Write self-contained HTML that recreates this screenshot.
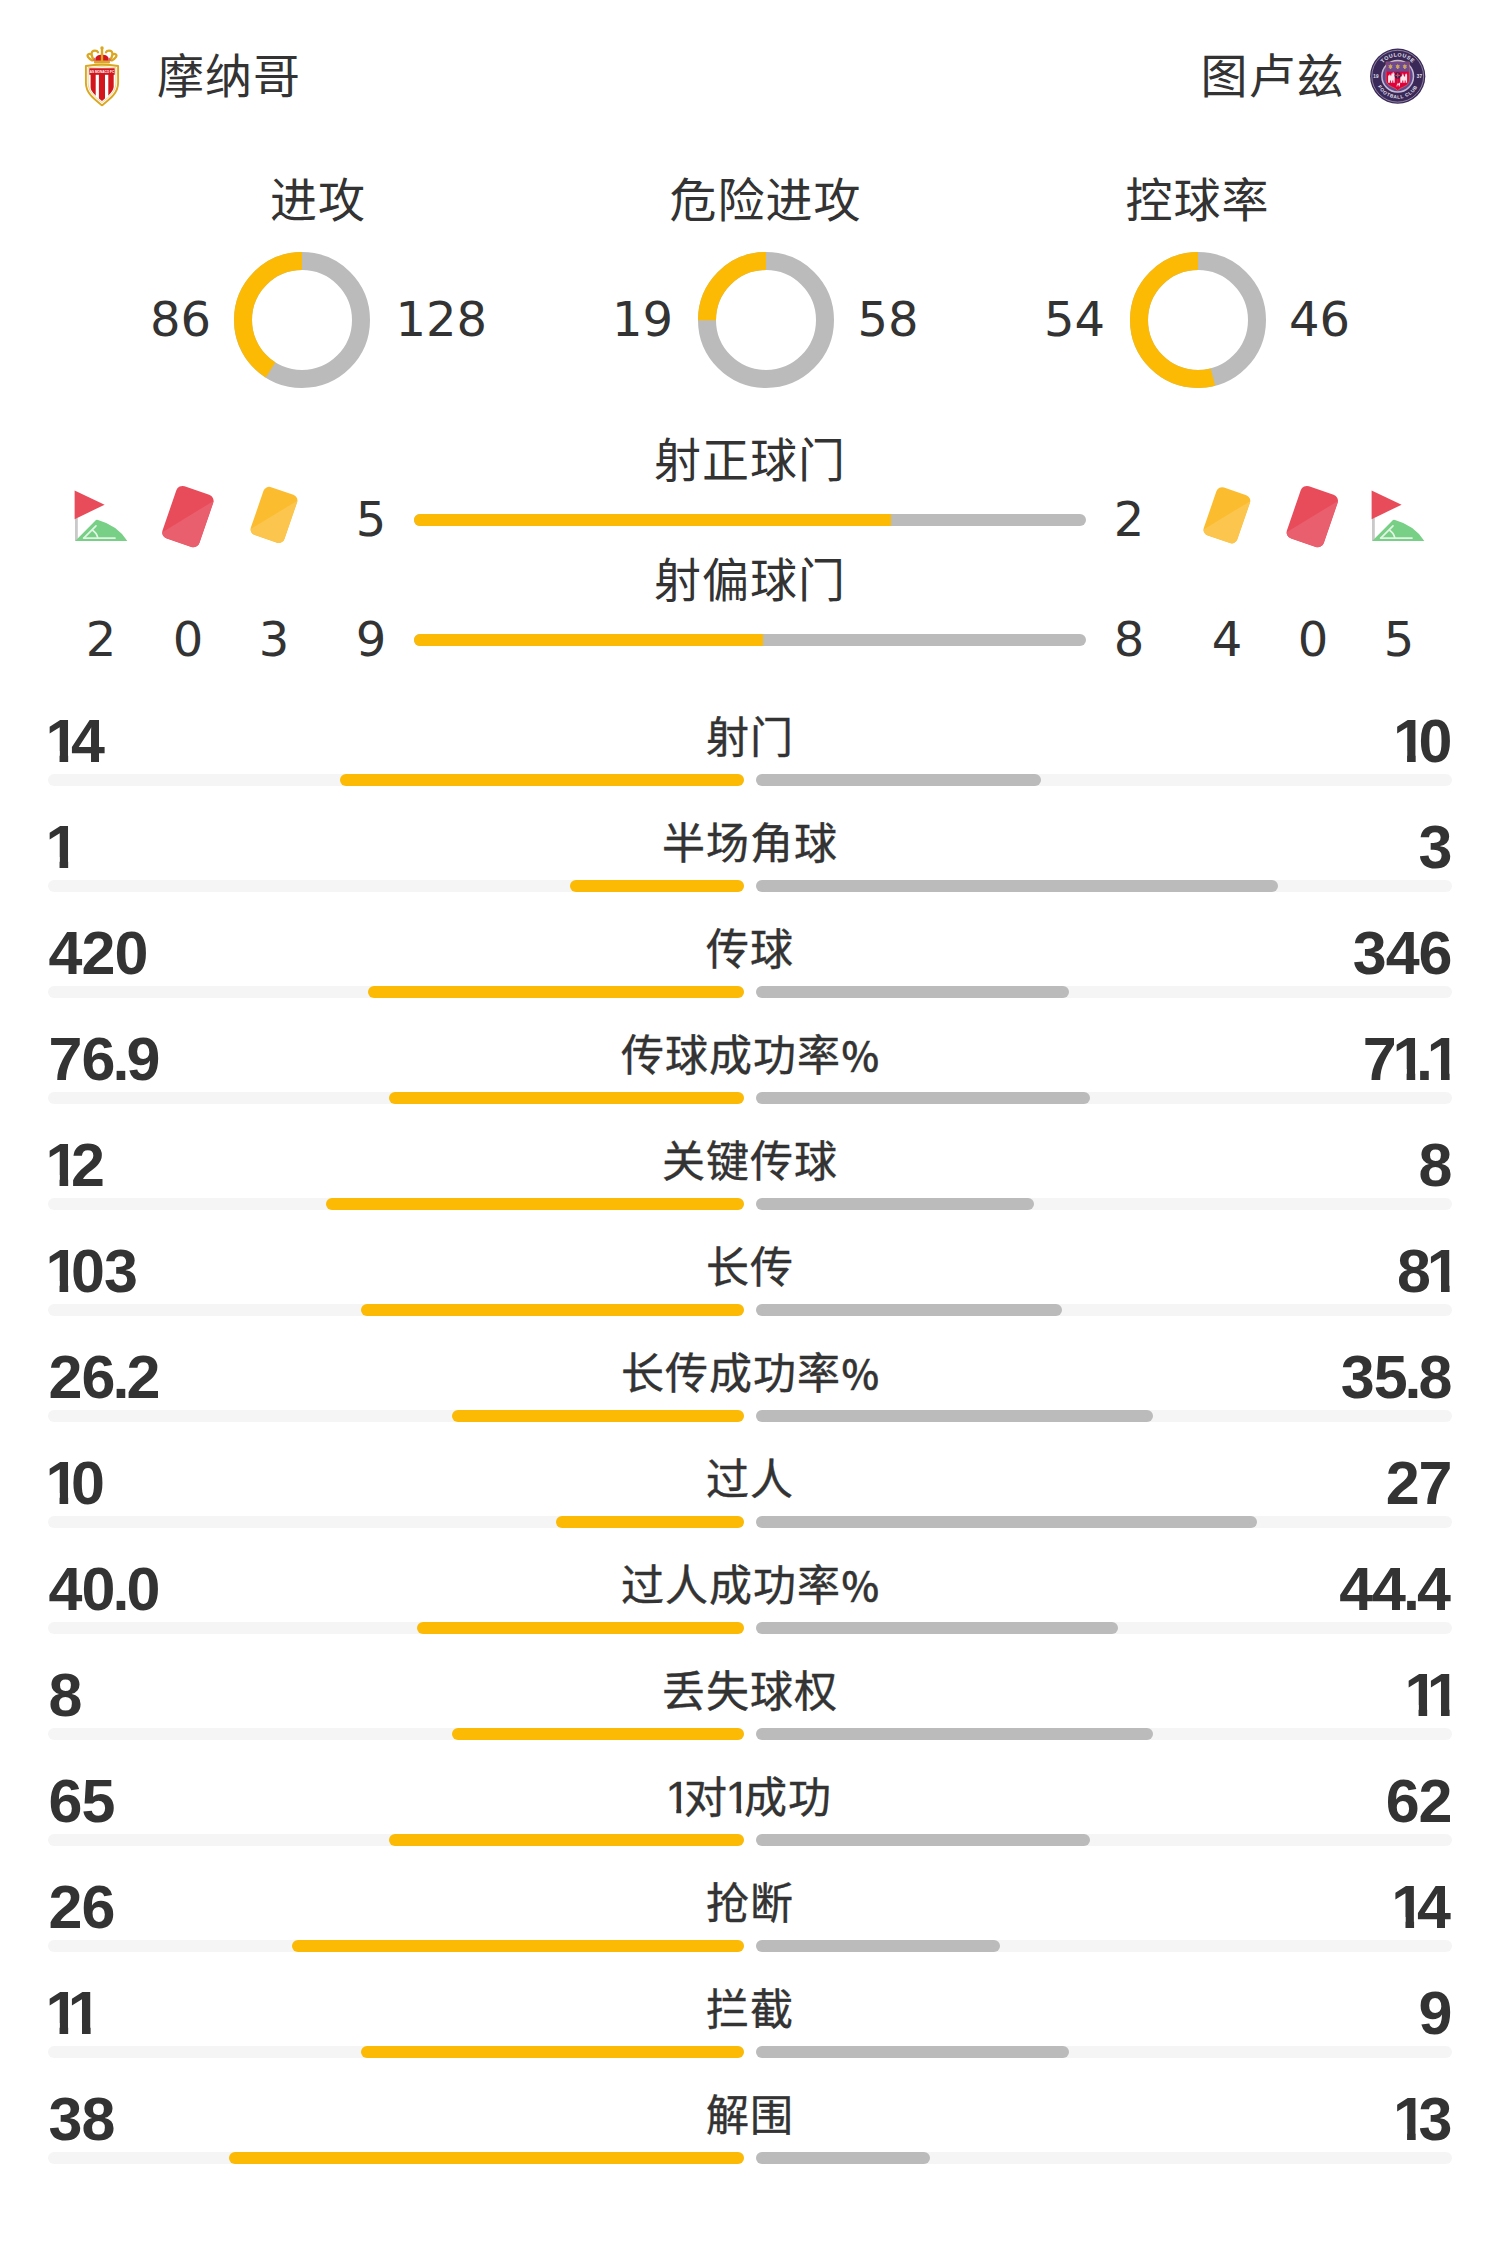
<!DOCTYPE html>
<html lang="zh-CN"><head><meta charset="utf-8"><title>摩纳哥 vs 图卢兹</title>
<style>
*{margin:0;padding:0;box-sizing:border-box}
html,body{width:1500px;height:2244px;background:#fff;overflow:hidden}
body{position:relative;color:#333;font-family:"DejaVu Sans","Noto Sans CJK SC",sans-serif;}
.abs{position:absolute;white-space:nowrap}
.t48{font-size:48px;line-height:60px;height:60px}
.c47{font-size:47px;letter-spacing:1px}
.num{font-family:"Liberation Sans",sans-serif;font-weight:700;font-size:61px;line-height:60px;height:60px;letter-spacing:-1px}
.lab{font-family:"Liberation Sans","Noto Sans CJK SC",sans-serif;font-weight:400;-webkit-text-stroke:0.4px #333;font-size:43px;letter-spacing:1px;line-height:60px;height:60px;left:0;width:1500px;text-align:center}
.track{position:absolute;width:696px;height:12px;border-radius:6px;background:#f5f5f5}
.by{position:absolute;height:12px;border-radius:6px;background:#fcba05}
.bg{position:absolute;height:12px;border-radius:6px;background:#bbb}
.d1{display:inline-block;font-size:45px;line-height:50px;letter-spacing:0;margin:0 -6.5px 0 -2.5px;clip-path:polygon(0 0,15.8px 0,15.8px 50px,10.9px 50px,10.9px 35px,0 35px)}
.o{display:inline-block;margin:0 -7.3px 0 -3.2px;clip-path:polygon(0 0,22.75px 0,22.75px 60px,14.15px 60px,14.15px 40px,0 40px)}
.p{margin:0 -2px}
.pc{font-family:"Noto Sans CJK SC",sans-serif;font-size:40px;font-weight:500;line-height:50px;letter-spacing:0;margin-left:0.5px}
</style></head>
<body>
<svg class="abs" style="left:80px;top:42px" width="44" height="68" viewBox="80 42 44 68">
<g fill="none" stroke="#dba720" stroke-width="2.3" stroke-linecap="round">
<path d="M94.6 60.6 C90.8 56.5 90.2 50.6 95 50.6 C96.6 50.6 97.6 51.4 98 52.2"/>
<path d="M109.4 60.6 C113.2 56.5 113.8 50.6 109 50.6 C107.4 50.6 106.4 51.4 106 52.2"/>
<path d="M92.2 60.4 C88.6 58.6 86.2 55.4 88.4 54.2 C89.4 53.7 90.3 54 90.8 54.4"/>
<path d="M111.8 60.4 C115.4 58.6 117.8 55.4 115.6 54.2 C114.6 53.7 113.7 54 113.2 54.4"/>
</g>
<path d="M95.6 60.8 C94.6 57.6 96.4 55 101 54.8 L103 54.8 C107.6 55 109.4 57.6 108.4 60.8 Z" fill="#d2161c"/>
<path d="M92.6 60.6 L94.8 57.6 L96 60.8 Z M111.4 60.6 L109.2 57.6 L108 60.8 Z" fill="#e8606a"/>
<rect x="100.8" y="48.4" width="2.4" height="12.6" fill="#dba720"/>
<circle cx="102" cy="48" r="1.7" fill="#dba720"/>
<rect x="94" y="60.9" width="16" height="2.5" rx="1" fill="#dba720"/>
<path d="M85.9 66 Q102 63.6 118.1 66 L118.1 83 C118.1 93 110 99 102 105.3 C94 99 85.9 93 85.9 83 Z" fill="#fff" stroke="#dba720" stroke-width="1.9" stroke-linejoin="round"/>
<path d="M88.1 67.6 Q102 65.8 115.9 67.6 L115.9 83 C115.9 91.6 109 97 102 102.5 C95 97 88.1 91.6 88.1 83 Z" fill="none" stroke="#e3b94a" stroke-width="0.6"/>
<clipPath id="mshield"><path d="M89.3 68.3 H114.7 V83 C114.7 90.8 108.4 95.8 102 100.9 C95.6 95.8 89.3 90.8 89.3 83 Z"/></clipPath>
<g clip-path="url(#mshield)">
<rect x="89" y="68" width="26" height="34" fill="#fff"/>
<rect x="90.6" y="74" width="5.1" height="28" fill="#d2161c"/>
<rect x="98.9" y="74" width="6.1" height="28" fill="#d2161c"/>
<rect x="108.3" y="74" width="5.4" height="28" fill="#d2161c"/>
<rect x="89" y="68" width="26" height="6.8" fill="#d2161c"/>
</g>
<text x="102" y="72.9" text-anchor="middle" font-family="Liberation Sans, sans-serif" font-weight="700" font-size="3.8" fill="#fff" textLength="24.4" lengthAdjust="spacingAndGlyphs">AS MONACO FC</text>
</svg>
<div class="abs t48 c47" style="left:157px;top:46.5px">摩纳哥</div>
<div class="abs t48 c47" style="right:155.5px;top:46.5px">图卢兹</div>
<svg class="abs" style="left:1367px;top:46px" width="62" height="62" viewBox="-31 -31 62 62">
<g transform="translate(-0.3 -0.8)">
<circle r="27.6" fill="#3a2958"/>
<circle r="25.9" fill="none" stroke="#fff" stroke-opacity="0.6" stroke-width="0.7"/>
<circle r="15.8" fill="#65488f" stroke="#c4bdd4" stroke-width="1.5"/>
<path d="M-11.6 -14.2 H11.6 V4 Q11.4 8.4 6 10.6 Q2 12 0 14.4 Q-2 12 -6 10.6 Q-11.4 8.4 -11.6 4 Z" fill="#e2003b" stroke="#d8924a" stroke-width="0.5"/>
<path d="M-11.4 -14 H11.4 V-4.6 H-11.4 Z" fill="#6a4c93"/>
<g fill="#d3a456" transform="translate(0 -1.4) scale(0.86)">
<path d="M-8.4 -12.6 l1 1.6 l1.6 -0.2 l-0.9 1.5 l0.6 1.9 l-1.4 -0.5 v1.6 h-1.8 v-1.6 l-1.4 0.5 l0.6 -1.9 l-0.9 -1.5 l1.6 0.2 Z" transform="translate(0 0)"/>
<path d="M0 -12.6 l1 1.6 l1.6 -0.2 l-0.9 1.5 l0.6 1.9 l-1.4 -0.5 v1.6 h-1.8 v-1.6 l-1.4 0.5 l0.6 -1.9 l-0.9 -1.5 l1.6 0.2 Z"/>
<path d="M8.4 -12.6 l1 1.6 l1.6 -0.2 l-0.9 1.5 l0.6 1.9 l-1.4 -0.5 v1.6 h-1.8 v-1.6 l-1.4 0.5 l0.6 -1.9 l-0.9 -1.5 l1.6 0.2 Z" transform="translate(-0.1 0)"/>
</g>
<g fill="#fff" fill-opacity="0.9">
<path d="M-9.6 6.6 V-0.6 h1.2 v-1 h1 v1 h1.1 v-2.2 h1.3 v-1.2 h1 v1.2 h1 V6.6 h-1.4 v-2.4 h-1 v2.4 h-1.4 v-2.4 h-1 v2.4 Z"/>
<path d="M2.6 6.6 V0.2 h1.4 l1.2 -3.4 l1.2 3.4 h1 v-1.6 l1 -1.6 l1 1.6 V6.6 h-1.4 v-2.4 h-1 v2.4 h-1.4 v-2.4 h-1 v2.4 Z"/>
<path d="M-0.6 7.2 h1.6 l0.9 -1 l0.6 1.4 l-0.6 2.6 h-0.8 l-0.2 -1.6 h-1 l-0.3 1.6 h-0.8 Z"/>
</g>
<rect x="-0.4" y="2" width="0.8" height="5" fill="#b03a4a"/>
<circle cy="-0.8" r="3.1" fill="#2f2350"/>
<path d="M-0.7 -3 h1.4 v1.5 h1.5 v1.4 h-1.5 v1.5 h-1.4 v-1.5 h-1.5 v-1.4 h1.5 Z" fill="#d6455c"/>
<path id="tarcT" d="M-19.7 0 A19.7 19.7 0 0 1 19.7 0" fill="none"/>
<path id="tarcB" d="M-22.4 0 A22.4 22.4 0 0 0 22.4 0" fill="none"/>
<g font-family="Liberation Sans, sans-serif" font-weight="700" fill="#e4e0ec" font-size="5.3">
<text text-anchor="middle" letter-spacing="0.55"><textPath href="#tarcT" startOffset="50%">TOULOUSE</textPath></text>
<text text-anchor="middle" font-size="4.8" letter-spacing="0.6"><textPath href="#tarcB" startOffset="50%">FOOTBALL CLUB</textPath></text>
<text x="-21.8" y="1.6" text-anchor="middle" font-size="4.6">19</text>
<text x="21.7" y="1.6" text-anchor="middle" font-size="4.6">37</text>
</g>
</g>
</svg>
<div class="abs t48 c47" style="left:118.0px;width:400px;text-align:center;top:170.5px">进攻</div>
<div class="abs t48" style="right:1289.0px;top:289px">86</div>
<svg class="abs" style="left:232.15px;top:250px" width="140" height="140" viewBox="-70 -70 140 140"><circle r="59" fill="none" stroke="#bbb" stroke-width="18"/><circle r="59" fill="none" stroke="#fcba05" stroke-width="18" stroke-dasharray="151.99 370.71" transform="rotate(-90) scale(1 -1)"/></svg>
<div class="abs t48" style="left:395.5px;top:289px">128</div>
<div class="abs t48 c47" style="left:565.5px;width:400px;text-align:center;top:170.5px">危险进攻</div>
<div class="abs t48" style="right:827.0px;top:289px">19</div>
<svg class="abs" style="left:695.90px;top:250px" width="140" height="140" viewBox="-70 -70 140 140"><circle r="59" fill="none" stroke="#bbb" stroke-width="18"/><circle r="59" fill="none" stroke="#fcba05" stroke-width="18" stroke-dasharray="92.68 370.71" transform="rotate(-90) scale(1 -1)"/></svg>
<div class="abs t48" style="left:857.5px;top:289px">58</div>
<div class="abs t48 c47" style="left:997.4px;width:400px;text-align:center;top:170.5px">控球率</div>
<div class="abs t48" style="right:395.0px;top:289px">54</div>
<svg class="abs" style="left:1128.20px;top:250px" width="140" height="140" viewBox="-70 -70 140 140"><circle r="59" fill="none" stroke="#bbb" stroke-width="18"/><circle r="59" fill="none" stroke="#fcba05" stroke-width="18" stroke-dasharray="200.18 370.71" transform="rotate(-90) scale(1 -1)"/></svg>
<div class="abs t48" style="left:1289.0px;top:289px">46</div>
<div class="abs t48 c47" style="left:0;width:1500px;text-align:center;top:431px">射正球门</div>
<div class="abs t48 c47" style="left:0;width:1500px;text-align:center;top:551px">射偏球门</div>
<div class="abs" style="left:414px;top:514px;width:672px;height:12px;border-radius:6px;background:#bbb;overflow:hidden"><div style="width:477.1px;height:12px;background:#fcba05"></div></div>
<div class="abs" style="left:414px;top:634px;width:672px;height:12px;border-radius:6px;background:#bbb;overflow:hidden"><div style="width:349.4px;height:12px;background:#fcba05"></div></div>
<div class="abs t48" style="left:321px;width:100px;text-align:center;top:489px">5</div>
<div class="abs t48" style="left:1079px;width:100px;text-align:center;top:489px">2</div>
<div class="abs t48" style="left:51px;width:100px;text-align:center;top:609px">2</div>
<div class="abs t48" style="left:138px;width:100px;text-align:center;top:609px">0</div>
<div class="abs t48" style="left:224px;width:100px;text-align:center;top:609px">3</div>
<div class="abs t48" style="left:321px;width:100px;text-align:center;top:609px">9</div>
<div class="abs t48" style="left:1079px;width:100px;text-align:center;top:609px">8</div>
<div class="abs t48" style="left:1177px;width:100px;text-align:center;top:609px">4</div>
<div class="abs t48" style="left:1263px;width:100px;text-align:center;top:609px">0</div>
<div class="abs t48" style="left:1349px;width:100px;text-align:center;top:609px">5</div>
<svg class="abs" style="left:0;top:470px" width="1500" height="90" viewBox="0 470 1500 90">
<g transform="translate(0 0)">
<rect x="75" y="518" width="2.8" height="22.9" fill="#c9c9c9"/>
<path d="M74.6 490.6 L104.6 504.7 L74.6 519.2 Z" fill="#e84c5b"/>
<path d="M75.2 541 L96 519.9 Q97 519.4 98 519.9 Q118 525.5 127.3 541 Z" fill="#78cf86"/>
<g fill="none" stroke="#e2f5e5" stroke-width="1.7" stroke-linecap="round"><path d="M83.6 538.1 H115"/><path d="M84 537.8 L96 525.8"/><path d="M92.6 530.2 Q96.8 533 97.8 537.8"/></g>
</g>
<g transform="translate(1297 0)">
<rect x="75" y="518" width="2.8" height="22.9" fill="#c9c9c9"/>
<path d="M74.6 490.6 L104.6 504.7 L74.6 519.2 Z" fill="#e84c5b"/>
<path d="M75.2 541 L96 519.9 Q97 519.4 98 519.9 Q118 525.5 127.3 541 Z" fill="#78cf86"/>
<g fill="none" stroke="#e2f5e5" stroke-width="1.7" stroke-linecap="round"><path d="M83.6 538.1 H115"/><path d="M84 537.8 L96 525.8"/><path d="M92.6 530.2 Q96.8 533 97.8 537.8"/></g>
</g>
<g transform="translate(187.9 516.6) rotate(19)">
<clipPath id="k1"><rect x="-19.5" y="-27.6" width="39" height="55.2" rx="6.5"/></clipPath>
<rect x="-19.5" y="-27.6" width="39" height="55.2" rx="6.5" fill="#e84c5b"/>
<path d="M-19.5 23.6 L19.5 -23.6 V27.6 H-19.5 Z" fill="#ea5f6d" clip-path="url(#k1)"/>
</g>
<g transform="translate(274 514.9) rotate(19)">
<clipPath id="k2"><rect x="-17.75" y="-25.3" width="35.5" height="50.6" rx="6"/></clipPath>
<rect x="-17.75" y="-25.3" width="35.5" height="50.6" rx="6" fill="#fbbc30"/>
<path d="M-17.75 21.3 L17.75 -21.3 V25.3 H-17.75 Z" fill="#fcc54e" clip-path="url(#k2)"/>
</g>
<g transform="translate(1226.9 515.3) rotate(19)">
<clipPath id="k3"><rect x="-17.75" y="-25.3" width="35.5" height="50.6" rx="6"/></clipPath>
<rect x="-17.75" y="-25.3" width="35.5" height="50.6" rx="6" fill="#fbbc30"/>
<path d="M-17.75 21.3 L17.75 -21.3 V25.3 H-17.75 Z" fill="#fcc54e" clip-path="url(#k3)"/>
</g>
<g transform="translate(1312.3 516.6) rotate(19)">
<clipPath id="k4"><rect x="-19.5" y="-27.6" width="39" height="55.2" rx="6.5"/></clipPath>
<rect x="-19.5" y="-27.6" width="39" height="55.2" rx="6.5" fill="#e84c5b"/>
<path d="M-19.5 23.6 L19.5 -23.6 V27.6 H-19.5 Z" fill="#ea5f6d" clip-path="url(#k4)"/>
</g>
</svg>
<div class="abs num" style="left:48.6px;top:711px"><span class="o">1</span>4</div><div class="abs lab" style="top:708px">射门</div><div class="abs num" style="right:48.5px;top:711px"><span class="o">1</span>0</div>
<div class="track" style="left:48px;top:774px"></div><div class="track" style="left:756px;top:774px"></div><div class="by" style="left:340.3px;width:403.7px;top:774px"></div><div class="bg" style="left:756px;width:285.4px;top:774px"></div>
<div class="abs num" style="left:48.6px;top:817px"><span class="o">1</span></div><div class="abs lab" style="top:814px">半场角球</div><div class="abs num" style="right:48.5px;top:817px">3</div>
<div class="track" style="left:48px;top:880px"></div><div class="track" style="left:756px;top:880px"></div><div class="by" style="left:570.0px;width:174.0px;top:880px"></div><div class="bg" style="left:756px;width:522.0px;top:880px"></div>
<div class="abs num" style="left:48.6px;top:923px">420</div><div class="abs lab" style="top:920px">传球</div><div class="abs num" style="right:48.5px;top:923px">346</div>
<div class="track" style="left:48px;top:986px"></div><div class="track" style="left:756px;top:986px"></div><div class="by" style="left:368.2px;width:375.8px;top:986px"></div><div class="bg" style="left:756px;width:313.2px;top:986px"></div>
<div class="abs num" style="left:48.6px;top:1029px">76<span class="p">.</span>9</div><div class="abs lab" style="top:1026px">传球成功率<span class="pc">%</span></div><div class="abs num" style="right:47.5px;top:1029px">7<span class="o">1</span><span class="p">.</span><span class="o">1</span></div>
<div class="track" style="left:48px;top:1092px"></div><div class="track" style="left:756px;top:1092px"></div><div class="by" style="left:389.0px;width:355.0px;top:1092px"></div><div class="bg" style="left:756px;width:334.1px;top:1092px"></div>
<div class="abs num" style="left:48.6px;top:1135px"><span class="o">1</span>2</div><div class="abs lab" style="top:1132px">关键传球</div><div class="abs num" style="right:48.5px;top:1135px">8</div>
<div class="track" style="left:48px;top:1198px"></div><div class="track" style="left:756px;top:1198px"></div><div class="by" style="left:326.4px;width:417.6px;top:1198px"></div><div class="bg" style="left:756px;width:278.4px;top:1198px"></div>
<div class="abs num" style="left:48.6px;top:1241px"><span class="o">1</span>03</div><div class="abs lab" style="top:1238px">长传</div><div class="abs num" style="right:47.5px;top:1241px">8<span class="o">1</span></div>
<div class="track" style="left:48px;top:1304px"></div><div class="track" style="left:756px;top:1304px"></div><div class="by" style="left:361.2px;width:382.8px;top:1304px"></div><div class="bg" style="left:756px;width:306.2px;top:1304px"></div>
<div class="abs num" style="left:48.6px;top:1347px">26<span class="p">.</span>2</div><div class="abs lab" style="top:1344px">长传成功率<span class="pc">%</span></div><div class="abs num" style="right:48.5px;top:1347px">35<span class="p">.</span>8</div>
<div class="track" style="left:48px;top:1410px"></div><div class="track" style="left:756px;top:1410px"></div><div class="by" style="left:451.7px;width:292.3px;top:1410px"></div><div class="bg" style="left:756px;width:396.7px;top:1410px"></div>
<div class="abs num" style="left:48.6px;top:1453px"><span class="o">1</span>0</div><div class="abs lab" style="top:1450px">过人</div><div class="abs num" style="right:48.5px;top:1453px">27</div>
<div class="track" style="left:48px;top:1516px"></div><div class="track" style="left:756px;top:1516px"></div><div class="by" style="left:556.1px;width:187.9px;top:1516px"></div><div class="bg" style="left:756px;width:501.1px;top:1516px"></div>
<div class="abs num" style="left:48.6px;top:1559px">40<span class="p">.</span>0</div><div class="abs lab" style="top:1556px">过人成功率<span class="pc">%</span></div><div class="abs num" style="right:50.1px;top:1559px">44<span class="p">.</span>4</div>
<div class="track" style="left:48px;top:1622px"></div><div class="track" style="left:756px;top:1622px"></div><div class="by" style="left:416.9px;width:327.1px;top:1622px"></div><div class="bg" style="left:756px;width:361.9px;top:1622px"></div>
<div class="abs num" style="left:48.6px;top:1665px">8</div><div class="abs lab" style="top:1662px">丢失球权</div><div class="abs num" style="right:47.5px;top:1665px"><span class="o">1</span><span class="o">1</span></div>
<div class="track" style="left:48px;top:1728px"></div><div class="track" style="left:756px;top:1728px"></div><div class="by" style="left:451.7px;width:292.3px;top:1728px"></div><div class="bg" style="left:756px;width:396.7px;top:1728px"></div>
<div class="abs num" style="left:48.6px;top:1771px">65</div><div class="abs lab" style="top:1768px"><span class="d1">1</span>对<span class="d1">1</span>成功</div><div class="abs num" style="right:48.5px;top:1771px">62</div>
<div class="track" style="left:48px;top:1834px"></div><div class="track" style="left:756px;top:1834px"></div><div class="by" style="left:389.0px;width:355.0px;top:1834px"></div><div class="bg" style="left:756px;width:334.1px;top:1834px"></div>
<div class="abs num" style="left:48.6px;top:1877px">26</div><div class="abs lab" style="top:1874px">抢断</div><div class="abs num" style="right:50.1px;top:1877px"><span class="o">1</span>4</div>
<div class="track" style="left:48px;top:1940px"></div><div class="track" style="left:756px;top:1940px"></div><div class="by" style="left:291.6px;width:452.4px;top:1940px"></div><div class="bg" style="left:756px;width:243.6px;top:1940px"></div>
<div class="abs num" style="left:48.6px;top:1983px"><span class="o">1</span><span class="o">1</span></div><div class="abs lab" style="top:1980px">拦截</div><div class="abs num" style="right:48.5px;top:1983px">9</div>
<div class="track" style="left:48px;top:2046px"></div><div class="track" style="left:756px;top:2046px"></div><div class="by" style="left:361.2px;width:382.8px;top:2046px"></div><div class="bg" style="left:756px;width:313.2px;top:2046px"></div>
<div class="abs num" style="left:48.6px;top:2089px">38</div><div class="abs lab" style="top:2086px">解围</div><div class="abs num" style="right:48.5px;top:2089px"><span class="o">1</span>3</div>
<div class="track" style="left:48px;top:2152px"></div><div class="track" style="left:756px;top:2152px"></div><div class="by" style="left:229.0px;width:515.0px;top:2152px"></div><div class="bg" style="left:756px;width:174.0px;top:2152px"></div>
</body></html>
